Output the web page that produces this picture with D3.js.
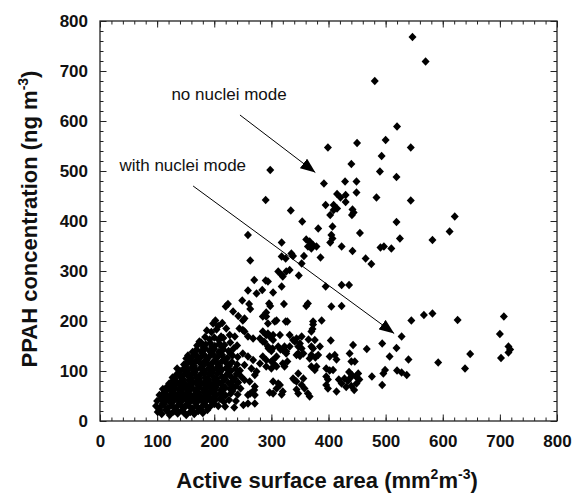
<!DOCTYPE html>
<html>
<head>
<meta charset="utf-8">
<script src="https://cdn.jsdelivr.net/npm/d3@7"></script>
<style>
  body { margin: 0; background: #fff; }
  text { font-family: "Liberation Sans", Arial, sans-serif; }
</style>
</head>
<body>
<div id="chart"></div>
<script>
// tick labels
const xTicks = [0, 100, 200, 300, 400, 500, 600, 700, 800];
const yTicks = [0, 100, 200, 300, 400, 500, 600, 700, 800];

// points: [active surface area, PPAH]
const upperPoints = [
  [547,768],[570,719],[481,680],[520,589],[450,556],[500,562],[544,547],[399,547],
  [493,530],[440,514],[490,499],[519,488],[298,502],[392,475],[429,479],[449,479],
  [415,454],[421,447],[430,452],[449,457],[430,438],[484,447],[544,441],[290,442],
  [395,432],[409,432],[415,425],[409,422],[442,423],[444,417],[441,412],[403,412],
  [334,421],[354,399],[382,385],[407,389],[455,376],[519,398],[621,409],[612,379],
  [582,362],[525,365],[405,372],[407,365],[403,357],[423,349],[442,340],[465,325],
  [475,314],[491,347],[497,349],[510,345],[318,357],[361,363],[367,359],[373,352],
  [379,349],[364,349],[370,345],[357,330],[386,327],[353,315],[318,329],[325,325],
  [335,335],[338,330],[259,372],[263,321]
];

const midPoints = [
  [312,299],[318,292],[326,299],[332,302],[320,289],[348,291],[294,279],[284,262],
  [303,257],[318,269],[395,269],[423,272],[436,272],[296,235],[298,230],[291,217],
  [285,209],[294,195],[322,234],[309,201],[325,199],[364,235],[361,230],[373,199],
  [388,201],[405,229],[423,230],[270,282],[290,281],[259,261],[274,255],
  [249,241],[261,234],[263,224],[224,234],[220,229],[233,219],[242,210],[253,205],
  [250,201],[202,201],[291,209]
];

const lowerRightPoints = [
  [545,201],[567,212],[582,215],[626,202],[707,209],[700,174],[715,149],[718,143],
  [715,137],[702,126],[648,134],[592,117],[639,105],
  [404,161],[443,152],[494,155],[528,169],[467,144],[519,146],[507,129],[540,123],
  [437,135],[440,119],[446,119],[402,129],[411,132],[414,123],[396,105],[402,101],
  [408,102],[396,89],[399,83],[418,83],[428,85],[423,75],[476,89],[496,95],[499,102],
  [494,72],[520,101],[528,97],[537,92],[396,72],[399,65],[414,59],
  [436,98],[441,92],[448,89],[454,83],[434,80],[440,70],[449,75],[431,68],[445,62],
  [452,95],[438,86]
];

const middleLowPoints = [
  [306,199],[328,199],[373,193],[372,184],[294,175],[303,172],[315,172],[332,172],
  [344,165],[353,169],[341,159],[350,155],[376,162],[370,149],[365,163],[288,158],
  [295,145],[300,140],[312,149],[320,142],[326,139],[347,135],[350,130],[344,132],
  [370,132],[377,127],[382,132],[367,125],[356,135],[326,135],[316,143],[332,149],
  [306,112],[300,119],[291,109],[323,109],[328,119],[347,95],[370,109],[376,102],[379,109],
  [338,85],[344,79],[353,72],[358,65],[364,55],[347,55],[367,49],[356,85],[340,82],
  [312,75],[309,65],[303,55],[318,53],[320,59],[315,72],[303,79],[297,57],
  [250,182],[259,169],[268,165],[285,179],[291,172],[297,169],[285,159],[280,165],
  [303,162],[294,149],[338,162],[347,149],[353,145],[323,149],[370,179],[385,149],[373,145],
  [250,135],[259,129],[268,122],[253,112],[265,105],[274,99],[280,115],[285,129],
  [291,122],[303,122],[309,109],[320,115],[309,129],[302,145],[300,105],
  [262,79],[253,82],[271,69],[271,92],[270,62],[263,55],
  [259,52],[271,52],[271,35],[259,35],[251,32],[235,27],[219,29],[344,63]
];

const clusterPoints = [
  [101,18],[108,14],[115,22],[122,12],[129,19],[136,15],[143,21],[151,12],[158,18],[165,14],[172,20],[180,16],[188,22],
  [98,30],[105,27],[112,33],[119,26],[126,31],[134,28],[141,33],[148,27],[155,31],[162,25],[169,30],[177,27],[184,32],[192,28],[200,34],[207,30],
  [100,40],[107,44],[114,38],[121,43],[128,39],[135,45],[143,40],[150,44],[157,38],[164,43],[171,39],[178,44],[186,40],[193,45],[201,41],[210,44],[217,38],[226,42],[238,40],
  [104,52],[111,56],[118,50],[125,55],[132,51],[139,57],[146,52],[153,56],[160,50],[167,55],[175,51],[182,57],[189,53],[196,58],[204,52],[212,56],[220,51],[229,55],[241,53],
  [110,64],[117,68],[124,62],[131,67],[138,63],[145,69],[152,64],[159,68],[166,62],[173,67],[181,63],[188,69],[195,64],[203,68],[211,62],[219,67],[228,64],[237,69],[246,65],
  [121,75],[128,81],[135,76],[142,80],[149,75],[156,82],[163,77],[170,81],[178,75],[185,80],[192,76],[200,82],[208,77],[216,81],[225,76],[233,80],[242,77],
  [127,87],[134,93],[141,88],[148,94],[155,89],[162,95],[169,88],[176,93],[184,87],[191,94],[198,89],[206,95],[214,88],[222,93],[230,88],[239,94],[247,89],
  [135,105],[140,100],[147,105],[154,101],[161,107],[168,102],[176,106],[183,100],[190,105],[198,101],[205,107],[213,102],[221,106],[229,100],[237,105],[245,101],
  [147,113],[154,118],[161,114],[168,120],[176,115],[183,119],[190,113],[198,118],[206,114],[214,120],[222,115],[231,118],[240,113],
  [151,125],[154,131],[161,127],[168,132],[175,126],[183,131],[190,127],[198,133],[206,128],[214,132],[223,126],[232,131],[241,128],
  [162,138],[169,143],[177,139],[184,145],[192,140],[200,144],[208,138],[216,143],[225,140],[234,145],
  [170,151],[177,157],[185,153],[193,156],[201,150],[209,155],[218,152],[228,157],[240,151],
  [174,159],[184,168],[192,163],[200,167],[208,162],[216,166],[212,169],[227,172],[236,169],
  [187,181],[195,178],[204,183],[221,185],[244,185],[253,179],
  [198,195],[207,190],[214,196]
];

// extra points filling the dense core
const clusterFill = [
  [104,22],[118,20],[133,23],[147,17],[162,20],[176,23],
  [110,35],[124,36],[139,36],[153,35],[167,36],[181,37],[196,38],
  [111,47],[125,48],[140,48],[155,47],[170,47],[184,48],[199,48],[214,48],
  [115,59],[128,60],[143,60],[157,61],[171,59],[186,60],[201,61],[215,61],[232,60],
  [126,71],[141,73],[156,72],[170,73],[185,72],[199,73],[214,72],[230,72],
  [131,84],[145,84],[160,85],[174,84],[189,84],[204,85],[219,84],[236,85],
  [138,97],[152,97],[166,97],[181,97],[195,97],[210,98],[225,97],
  [150,110],[165,110],[180,110],[194,110],[209,110],[226,110],
  [158,122],[172,123],[187,122],[202,122],[218,123],
  [166,135],[180,135],[195,136],[210,135],[228,136],
  [181,148],[196,148],[213,148]
];

// annotations: text anchor and arrow (start -> tip) in data units
const labelTexts = ["no nuclei mode", "with nuclei mode"];
const labelAt = [[125, 642], [34, 500]];
const arrowFrom = [[245, 612], [163, 470]];
const arrowTo = [[377, 497], [515, 175]];

const margin = { top: 21, left: 100 };
const width = 457;
const height = 400;

const svg = d3.select("#chart")
  .append("svg")
  .attr("width", 572)
  .attr("height", 495);

const g = svg.append("g")
  .attr("transform", `translate(${margin.left}, ${margin.top})`);

const x = d3.scaleLinear().domain([0, 800]).range([0, width]);
const y = d3.scaleLinear().domain([0, 800]).range([height, 0]);

const minorTicks = d3.range(0, 801, 20);

// minor ticks on all four sides (inward)
g.append("g").attr("transform", `translate(0, ${height})`)
  .call(d3.axisBottom(x).tickValues(minorTicks).tickSize(-3.5).tickFormat(""));
g.append("g")
  .call(d3.axisTop(x).tickValues(minorTicks).tickSize(-3.5).tickFormat(""));
g.append("g")
  .call(d3.axisLeft(y).tickValues(minorTicks).tickSize(-3.5).tickFormat(""));
g.append("g").attr("transform", `translate(${width}, 0)`)
  .call(d3.axisRight(y).tickValues(minorTicks).tickSize(-3.5).tickFormat(""));

// major ticks with labels
g.append("g").attr("transform", `translate(0, ${height})`)
  .call(d3.axisBottom(x).tickValues(xTicks).tickSize(-6.5).tickPadding(14).tickFormat(d3.format("d")));
g.append("g")
  .call(d3.axisLeft(y).tickValues(yTicks).tickSize(-6.5).tickPadding(12).tickFormat(d3.format("d")));
g.append("g")
  .call(d3.axisTop(x).tickValues(xTicks).tickSize(-6.5).tickFormat(""));
g.append("g").attr("transform", `translate(${width}, 0)`)
  .call(d3.axisRight(y).tickValues(yTicks).tickSize(-6.5).tickFormat(""));

g.selectAll(".domain").remove();
g.selectAll(".tick line").attr("stroke", "#222").attr("stroke-width", 1);
g.selectAll(".tick text")
  .style("font-family", "'Liberation Sans', Arial, sans-serif")
  .style("font-size", "17px")
  .style("font-weight", "bold")
  .attr("fill", "#111");

// frame
g.append("rect")
  .attr("x", 0).attr("y", 0)
  .attr("width", width).attr("height", height)
  .attr("fill", "none")
  .attr("stroke", "#222")
  .attr("stroke-width", 1.3);

// axis titles
const xTitle = svg.append("text")
  .attr("x", 327).attr("y", 488)
  .attr("text-anchor", "middle")
  .style("font-size", "22px")
  .style("font-weight", "bold")
  .attr("fill", "#111");
xTitle.append("tspan").text("Active surface area (mm");
xTitle.append("tspan").attr("dy", -9).style("font-size", "14px").text("2");
xTitle.append("tspan").attr("dy", 9).text("m");
xTitle.append("tspan").attr("dy", -9).style("font-size", "14px").text("-3");
xTitle.append("tspan").attr("dy", 9).text(")");

const yTitle = svg.append("text")
  .attr("transform", "translate(37, 219) rotate(-90)")
  .attr("text-anchor", "middle")
  .style("font-size", "22px")
  .style("font-weight", "bold")
  .attr("fill", "#111");
yTitle.append("tspan").text("PPAH concentration (ng m");
yTitle.append("tspan").attr("dy", -9).style("font-size", "14px").text("-3");
yTitle.append("tspan").attr("dy", 9).text(")");

// data points
const allPoints = [...upperPoints, ...midPoints, ...lowerRightPoints, ...middleLowPoints, ...clusterPoints, ...clusterFill];
g.selectAll(".pt")
  .data(allPoints)
  .enter()
  .append("path")
  .attr("class", "pt")
  .attr("d", "M0,-4.3L4,0L0,4.3L-4,0Z")
  .attr("transform", d => `translate(${x(d[0])}, ${y(d[1])})`)
  .attr("fill", "#000");

// arrows
svg.append("defs").append("marker")
  .attr("id", "head")
  .attr("markerUnits", "userSpaceOnUse")
  .attr("viewBox", "0 0 15 12")
  .attr("refX", 15).attr("refY", 6)
  .attr("markerWidth", 15).attr("markerHeight", 12)
  .attr("orient", "auto")
  .append("path")
  .attr("d", "M0,0L15,6L0,12Z")
  .attr("fill", "#000");

arrowFrom.forEach((a, i) => {
  g.append("line")
    .attr("x1", x(a[0])).attr("y1", y(a[1]))
    .attr("x2", x(arrowTo[i][0])).attr("y2", y(arrowTo[i][1]))
    .attr("stroke", "#000")
    .attr("stroke-width", 1)
    .attr("marker-end", "url(#head)");
});

labelTexts.forEach((t, i) => {
  g.append("text")
    .attr("x", x(labelAt[i][0]))
    .attr("y", y(labelAt[i][1]))
    .style("font-size", "17px")
    .attr("fill", "#111")
    .text(t);
});
</script>
</body>
</html>
